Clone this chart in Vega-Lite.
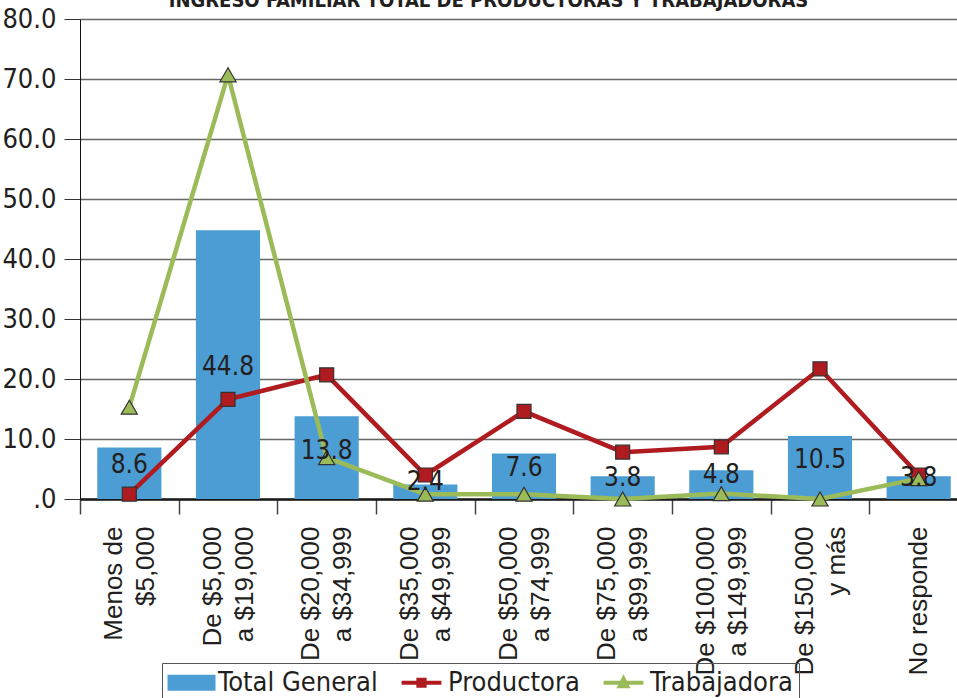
{
  "$schema": "https://vega.github.io/schema/vega-lite/v6.json",
  "width": 877,
  "height": 480,
  "autosize": "none",
  "padding": {"left": 80, "top": 19, "right": 0, "bottom": 199},
  "background": "white",
  "config": {
    "view": {"stroke": null},
    "axis": {"labelColor": "#231f20"}
  },
  "data": {
    "values": [
      {"cat": "Menos de|$5,000", "serie": "Total General", "valor": 8.6},
      {"cat": "De $5,000|a $19,000", "serie": "Total General", "valor": 44.8},
      {"cat": "De $20,000|a $34,999", "serie": "Total General", "valor": 13.8},
      {"cat": "De $35,000|a $49,999", "serie": "Total General", "valor": 2.4},
      {"cat": "De $50,000|a $74,999", "serie": "Total General", "valor": 7.6},
      {"cat": "De $75,000|a $99,999", "serie": "Total General", "valor": 3.8},
      {"cat": "De $100,000|a $149,999", "serie": "Total General", "valor": 4.8},
      {"cat": "De $150,000|y más", "serie": "Total General", "valor": 10.5},
      {"cat": "No responde", "serie": "Total General", "valor": 3.8},
      {"cat": "Menos de|$5,000", "serie": "Productora", "valor": 0.8},
      {"cat": "De $5,000|a $19,000", "serie": "Productora", "valor": 16.6},
      {"cat": "De $20,000|a $34,999", "serie": "Productora", "valor": 20.7},
      {"cat": "De $35,000|a $49,999", "serie": "Productora", "valor": 4.0},
      {"cat": "De $50,000|a $74,999", "serie": "Productora", "valor": 14.6},
      {"cat": "De $75,000|a $99,999", "serie": "Productora", "valor": 7.8},
      {"cat": "De $100,000|a $149,999", "serie": "Productora", "valor": 8.7},
      {"cat": "De $150,000|y más", "serie": "Productora", "valor": 21.7},
      {"cat": "No responde", "serie": "Productora", "valor": 4.0},
      {"cat": "Menos de|$5,000", "serie": "Trabajadora", "valor": 15.3},
      {"cat": "De $5,000|a $19,000", "serie": "Trabajadora", "valor": 70.7},
      {"cat": "De $20,000|a $34,999", "serie": "Trabajadora", "valor": 6.9},
      {"cat": "De $35,000|a $49,999", "serie": "Trabajadora", "valor": 0.8},
      {"cat": "De $50,000|a $74,999", "serie": "Trabajadora", "valor": 0.8},
      {"cat": "De $75,000|a $99,999", "serie": "Trabajadora", "valor": 0.0},
      {"cat": "De $100,000|a $149,999", "serie": "Trabajadora", "valor": 0.9},
      {"cat": "De $150,000|y más", "serie": "Trabajadora", "valor": 0.0},
      {"cat": "No responde", "serie": "Trabajadora", "valor": 3.4}
    ]
  },
  "layer": [
    {
      "encoding": {
        "x": {
          "field": "cat",
          "type": "nominal",
          "sort": null,
          "scale": {"range": [0, 888], "paddingInner": 0, "paddingOuter": 0},
          "axis": {
            "title": null,
            "labelExpr": "split(datum.label, '|')",
            "labelAngle": -90,
            "labelAlign": "right",
            "labelBaseline": "middle",
            "labelFont": "Liberation Sans",
            "labelFontSize": 26,
            "labelLineHeight": 32,
            "labelPadding": 12,
            "labelOffset": {"condition": {"test": "datum.value === 'No responde'", "value": 0}, "value": -16},
            "tickBand": "extent",
            "tickSize": 15,
            "tickColor": "#444",
            "tickWidth": 1.5,
            "domainColor": "#1a1a1a",
            "domainWidth": 2.5,
            "grid": false,
            "labelOverlap": false
          }
        }
      },
      "layer": [
        {
          "transform": [{"filter": "datum.serie === 'Total General'"}],
          "mark": {"type": "bar", "width": {"band": 0.65}},
          "encoding": {
            "y": {
              "field": "valor",
              "type": "quantitative",
              "scale": {"domain": [0, 80], "nice": false},
              "axis": {
                "title": null,
                "values": [0, 10, 20, 30, 40, 50, 60, 70, 80],
                "labelExpr": "datum.value === 0 ? '.0' : format(datum.value, '.1f')",
                "labelFont": "DejaVu Sans Condensed, Liberation Sans, sans-serif",
                "labelFontSize": 27,
                "labelPadding": 8,
                "labelFlush": false,
                "tickSize": 16,
                "tickColor": "#333",
                "domainColor": "#111",
                "domainWidth": 1,
                "gridColor": "#666",
                "gridWidth": 1.4
              }
            },
            "color": {
              "field": "serie",
              "type": "nominal",
              "scale": {
                "domain": ["Total General", "Productora", "Trabajadora"],
                "range": ["#4d9dd5", "#b01b20", "#9bbb59"]
              },
              "legend": {
                "title": null,
                "orient": "none",
                "legendX": 82,
                "legendY": 644,
                "direction": "horizontal",
                "columnPadding": 15,
                "padding": 6,
                "strokeColor": "#555",
                "symbolSize": 2304,
                "symbolOffset": 10,
                "labelFont": "DejaVu Sans Condensed, Liberation Sans, sans-serif",
                "labelFontSize": 27,
                "labelLimit": 400,
                "labelColor": "#231f20",
                "labelOffset": 13,
                "encode": {
                  "symbols": {
                    "update": {
                      "shape": {"signal": "datum.value === 'Total General' ? 'M-1,-0.33H1V0.33H-1Z' : datum.value === 'Productora' ? 'M-0.83,0H0.83M-0.13,-0.13H0.13V0.13H-0.13Z' : 'M-0.83,0H0.83M0,-0.17L0.16,0.15H-0.16Z'"},
                      "fill": {"scale": "color", "field": "value"},
                      "stroke": {"scale": "color", "field": "value"},
                      "strokeWidth": {"signal": "datum.value === 'Total General' ? 0 : 4"},
                      "opacity": {"value": 1},
                      "fillOpacity": {"value": 1}
                    }
                  }
                }
              }
            }
          }
        },
        {
          "transform": [{"filter": "datum.serie === 'Productora'"}],
          "mark": {"type": "line", "strokeWidth": 4.5},
          "encoding": {
            "y": {"field": "valor", "type": "quantitative"},
            "color": {"field": "serie", "type": "nominal"}
          }
        },
        {
          "transform": [{"filter": "datum.serie === 'Productora'"}],
          "mark": {"type": "point", "shape": "square", "filled": true, "size": 196, "stroke": "#333", "strokeWidth": 1.2, "opacity": 1},
          "encoding": {
            "y": {"field": "valor", "type": "quantitative"},
            "color": {"field": "serie", "type": "nominal"}
          }
        },
        {
          "transform": [{"filter": "datum.serie === 'Trabajadora'"}],
          "mark": {"type": "line", "strokeWidth": 4.5},
          "encoding": {
            "y": {"field": "valor", "type": "quantitative"},
            "color": {"field": "serie", "type": "nominal"}
          }
        },
        {
          "transform": [{"filter": "datum.serie === 'Trabajadora'"}],
          "mark": {"type": "point", "shape": "triangle-up", "filled": true, "size": 260, "stroke": "#333", "strokeWidth": 1.2, "opacity": 1},
          "encoding": {
            "y": {"field": "valor", "type": "quantitative"},
            "color": {"field": "serie", "type": "nominal"}
          }
        },
        {
          "data": {"values": [{"titulo": "INGRESO FAMILIAR TOTAL DE PRODUCTORAS Y TRABAJADORAS"}]},
          "mark": {"type": "text", "font": "DejaVu Sans Condensed, Liberation Sans, sans-serif", "fontSize": 20, "fontWeight": "bold", "color": "#231f20", "baseline": "alphabetic", "align": "center", "dx": -30},
          "encoding": {
            "x": {"value": {"expr": "width / 2"}},
            "y": {"datum": 82, "type": "quantitative"},
            "text": {"field": "titulo", "type": "nominal"}
          }
        }
      ]
    },
    {
      "transform": [{"filter": "datum.serie === 'Total General'"}],
      "mark": {"type": "text", "font": "DejaVu Sans Condensed, Liberation Sans, sans-serif", "fontSize": 26, "color": "#231f20", "baseline": "middle"},
      "encoding": {
        "x": {"field": "cat", "type": "nominal", "sort": null},
        "y": {"field": "valor", "type": "quantitative", "scale": {"domain": [-4, 174], "nice": false}, "axis": null},
        "text": {"field": "valor", "type": "quantitative", "format": ".1f"}
      }
    }
  ],
  "resolve": {"scale": {"y": "independent"}}
}
